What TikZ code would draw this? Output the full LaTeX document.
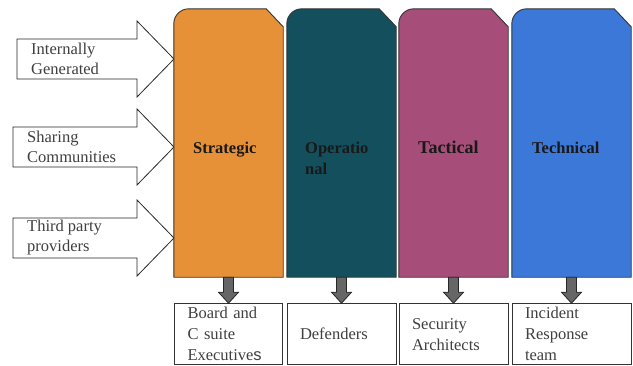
\documentclass[tikz,border=0pt]{standalone}
\usepackage{fontspec}
\setmainfont{Liberation Serif}
\setsansfont{Liberation Sans}
\usetikzlibrary{calc,positioning}

\definecolor{stratcol}{HTML}{E69138}
\definecolor{opercol}{HTML}{134F5C}
\definecolor{tactcol}{HTML}{A64D79}
\definecolor{techcol}{HTML}{3C78D8}

\tikzset{
  inarrow/.style={draw=black!85, fill=white, line width=0.8pt},
  tier/.style={draw=black!80, line width=0.9pt},
  tierlabel/.style={font=\fontsize{16.5}{21}\selectfont\bfseries, text=black!90, inner sep=0pt, align=left},
  srclabel/.style={font=\fontsize{16.5}{20}\selectfont, text=black!75, inner sep=0pt, align=left, anchor=west},
  rolebox/.style={draw=black!80, line width=0.9pt, fill=white, minimum height=61pt, inner xsep=13pt, inner ysep=0pt,
    align=left, font=\fontsize{16.5}{21}\selectfont, text=black!75},
  outarrow/.style={draw=black!85, fill=black!60, line width=0.8pt},
}

% column: name, centre x, width, colour
\newcommand{\Tier}[4]{%
  \node[minimum width=#3pt, minimum height=268pt, inner sep=0pt] (#1) at (#2,143) {};
  \draw[tier, fill=#4] (#1.south west) -- ($(#1.north west)+(0,15)$)
    .. controls ($(#1.north west)+(0,6.7)$) and ($(#1.north west)+(6.7,0)$) .. ($(#1.north west)+(15,0)$)
    -- ($(#1.north east)+(-17,0)$) -- ($(#1.north east)+(0,18)$) -- (#1.south east) -- cycle;
}
% input arrow: name, body left, tip y, text
\newcommand{\Source}[4]{%
  \draw[inarrow] (#2,#3-20) -- (137,#3-20) -- (137,#3-38) -- (174,#3)
    -- (137,#3+38) -- (137,#3+20) -- (#2,#3+20) -- cycle;
  \node[srclabel] (#1) at (#2+14,#3) {#4};
}
% down arrow from column to box
\newcommand{\Feed}[2]{%
  \draw[outarrow] ($(#1.south)+(-5,0)$) -- ($(#1.south |- #2.north)+(-5,-11)$) -- ++(-5,0)
    -- (#1.south |- #2.north) -- ($(#1.south |- #2.north)+(10,-11)$) -- ++(-5,0)
    -- ($(#1.south)+(5,0)$) -- cycle;
}

\begin{document}
\begin{tikzpicture}[x=1pt, y=-1pt]
  \useasboundingbox (0,0) rectangle (633,365);

  % sources
  \Source{internal}{17}{59}{Internally\\Generated}
  \Source{sharing}{13}{147}{Sharing\\Communities}
  \Source{thirdparty}{13}{238}{Third party\\providers}

  % tiers
  \Tier{strat}{228.5}{109}{stratcol}
  \Tier{oper}{341.5}{109}{opercol}
  \Tier{tact}{453.5}{109}{tactcol}
  \Tier{tech}{571.5}{119}{techcol}

  \node[tierlabel, anchor=base west] (stratlbl) at (193,153) {Strategic};
  \node[tierlabel, anchor=north west] (operlbl) at (305,141.8) {Operatio\\nal};
  \node[tierlabel, anchor=base west, font=\fontsize{18}{21}\selectfont\bfseries] (tactlbl) at (418,153) {Tactical};
  \node[tierlabel, anchor=base west] (techlbl) at (532,153) {Technical};

  % audiences
  \node[rolebox, text width=82pt, below=26pt of strat] (board) {Board and\\C suite\\Executive\textsf{s}};
  \node[rolebox, text width=83pt, below=26pt of oper] (defenders) {Defenders};
  \node[rolebox, text width=83pt, below=26pt of tact] (architects) {Security\\Architects};
  \node[rolebox, text width=93pt, below=26pt of tech] (response) {Incident\\Response\\team};

  \Feed{strat}{board}
  \Feed{oper}{defenders}
  \Feed{tact}{architects}
  \Feed{tech}{response}
\end{tikzpicture}
\end{document}
